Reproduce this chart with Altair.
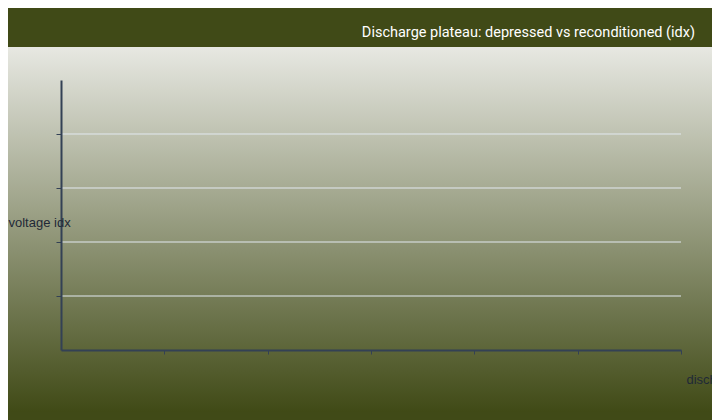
import altair as alt
import pandas as pd

# axis tick positions (no tick labels are shown in the reference)
x_ticks = [0, 1, 2, 3, 4, 5, 6]
y_grid = [1, 2, 3, 4]
x_domain = [0, 6]
y_domain = [0, 5]

title_text = "Discharge plateau: depressed vs reconditioned (idx)"
x_title = "discharge capacity idx"
y_title = "voltage idx"

W, H = 620, 270
PL, PT, PR, PB = 53, 72, 31, 70

bg_df = pd.DataFrame({"k": [0]})
grid_df = pd.DataFrame({"v": y_grid})
xt_df = pd.DataFrame({"x": x_ticks})

gradient = alt.LinearGradient(
    gradient="linear",
    stops=[alt.GradientStop(color="#e7e8e2", offset=0),
           alt.GradientStop(color="#404a16", offset=1)],
    x1=0, x2=0, y1=0, y2=1,
)

# plot-area background gradient (from below the title band to page bottom)
bg = alt.Chart(bg_df).mark_rect(fill=gradient).encode(
    x=alt.value(-PL), x2=alt.value(W + PR),
    y=alt.value(-33), y2=alt.value(H + 62),
)

grid = alt.Chart(grid_df).mark_rule(color="#e2e8f0", strokeWidth=1).encode(
    y=alt.Y("v:Q", scale=alt.Scale(domain=y_domain, nice=False),
            axis=alt.Axis(values=y_grid, labels=False, grid=False, zindex=2,
                          title=y_title, titleAngle=0, titleAlign="left",
                          titleBaseline="alphabetic", titleX=-53, titleY=146,
                          titleFontSize=13, titleFontWeight="normal",
                          titleColor="#1f2937",
                          domainColor="#334155", domainWidth=2,
                          tickColor="#334155", tickSize=5, tickWidth=1)),
    x=alt.value(0), x2=alt.value(W),
)

xcarrier = alt.Chart(xt_df).mark_rule(opacity=0).encode(
    x=alt.X("x:Q", scale=alt.Scale(domain=x_domain, nice=False),
            axis=alt.Axis(values=x_ticks[1:], labels=False, grid=False, zindex=2,
                          title=x_title, titleAlign="left",
                          titleBaseline="alphabetic", titleX=625, titleY=33,
                          titleFontSize=13, titleFontWeight="normal",
                          titleColor="#1f2937",
                          domainColor="#334155", domainWidth=2,
                          tickColor="#334155", tickSize=4, tickWidth=1)),
    y=alt.value(H), y2=alt.value(H),
)

title_df = pd.DataFrame({"t": [title_text]})
title = alt.Chart(title_df).mark_text(
    align="right", baseline="alphabetic", color="#ffffff",
    fontSize=14.5, font="Roboto",
).encode(text="t:N", x=alt.value(W + 14), y=alt.value(-43))

chart = alt.layer(bg, grid, xcarrier, title).properties(
    width=W, height=H,
    autosize=alt.AutoSizeParams(type="none"),
    padding={"left": PL, "top": PT, "right": PR, "bottom": PB},
).configure(background="#404a17").configure_view(stroke=None)

chart.save("out.html", embed_options={"renderer": "svg", "actions": False})
